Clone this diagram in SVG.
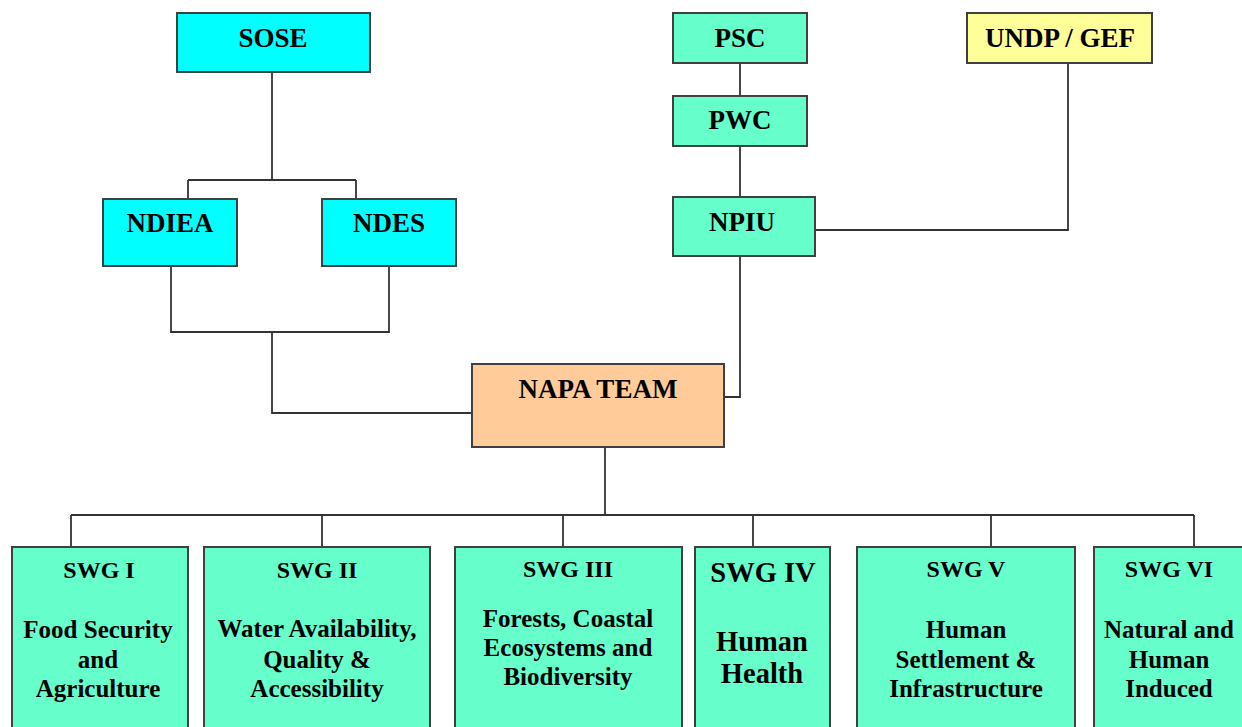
<svg xmlns="http://www.w3.org/2000/svg" width="1242" height="727" viewBox="0 0 1242 727">
<style>
.b{stroke:#404040;stroke-width:2}
.c{fill:#00FFFF}
.g{fill:#66FFCC}
.y{fill:#FFFF99}
.o{fill:#FFCC99}
text{font-family:"Liberation Serif","Times New Roman",serif;font-weight:bold;fill:#000;text-anchor:middle}
.t{font-size:27px}
.s{font-size:24px}
.m{font-size:25px}
.h{font-size:28.5px}
#connectors path{fill:none;stroke:#333;stroke-width:1.8}
</style>
<rect width="1242" height="727" fill="#fff"/>
<g id="connectors">
<path d="M272 72V180M188 180H356M188 180V199M356 180V199"/>
<path d="M171 266V332H389V266M272 332V413H472"/>
<path d="M740 63V96M740 146V197M740 256V397H724"/>
<path d="M1068 63V230H815"/>
<path d="M605 447V515M71 515H1194M71 515V547M322 515V547M563 515V547M753 515V547M991 515V547M1194 515V547"/>
</g>
<g id="sose"><rect class="b c" x="177" y="13" width="193" height="59"/><text class="t" x="273" y="47">SOSE</text></g>
<g id="ndiea"><rect class="b c" x="103" y="199" width="134" height="67"/><text class="t" x="170" y="232">NDIEA</text></g>
<g id="ndes"><rect class="b c" x="322" y="199" width="134" height="67"/><text class="t" x="389" y="232">NDES</text></g>
<g id="psc"><rect class="b g" x="673" y="13" width="134" height="50"/><text class="t" x="740" y="47">PSC</text></g>
<g id="pwc"><rect class="b g" x="673" y="96" width="134" height="50"/><text class="t" x="740" y="129">PWC</text></g>
<g id="npiu"><rect class="b g" x="673" y="197" width="142" height="59"/><text class="t" x="742" y="231">NPIU</text></g>
<g id="undp"><rect class="b y" x="967" y="13" width="185" height="50"/><text class="t" x="1060" y="47">UNDP / GEF</text></g>
<g id="napa"><rect class="b o" x="472" y="364" width="252" height="83"/><text class="t" x="598" y="398">NAPA TEAM</text></g>
<g id="swg1"><rect class="b g" x="12" y="547" width="176" height="190"/><text class="s" x="99" y="578">SWG I</text><text class="m" x="98" y="638">Food Security</text><text class="m" x="98" y="668">and</text><text class="m" x="98" y="697">Agriculture</text></g>
<g id="swg2"><rect class="b g" x="204" y="547" width="226" height="190"/><text class="s" x="317" y="578">SWG II</text><text class="m" x="317" y="637">Water Availability,</text><text class="m" x="317" y="668">Quality &amp;</text><text class="m" x="317" y="697">Accessibility</text></g>
<g id="swg3"><rect class="b g" x="455" y="547" width="227" height="190"/><text class="s" x="568" y="577">SWG III</text><text class="m" x="568" y="627">Forests, Coastal</text><text class="m" x="568" y="656">Ecosystems and</text><text class="m" x="568" y="685">Biodiversity</text></g>
<g id="swg4"><rect class="b g" x="695" y="547" width="135" height="190"/><text class="h" x="763" y="582">SWG IV</text><text class="h" x="762" y="651">Human</text><text class="h" x="762" y="683">Health</text></g>
<g id="swg5"><rect class="b g" x="857" y="547" width="218" height="190"/><text class="s" x="966" y="577">SWG V</text><text class="m" x="966" y="638">Human</text><text class="m" x="966" y="668">Settlement &amp;</text><text class="m" x="966" y="697">Infrastructure</text></g>
<g id="swg6"><rect class="b g" x="1094" y="547" width="160" height="190"/><text class="s" x="1169" y="577">SWG VI</text><text class="m" x="1169" y="638">Natural and</text><text class="m" x="1169" y="668">Human</text><text class="m" x="1169" y="697">Induced</text></g>
</svg>
